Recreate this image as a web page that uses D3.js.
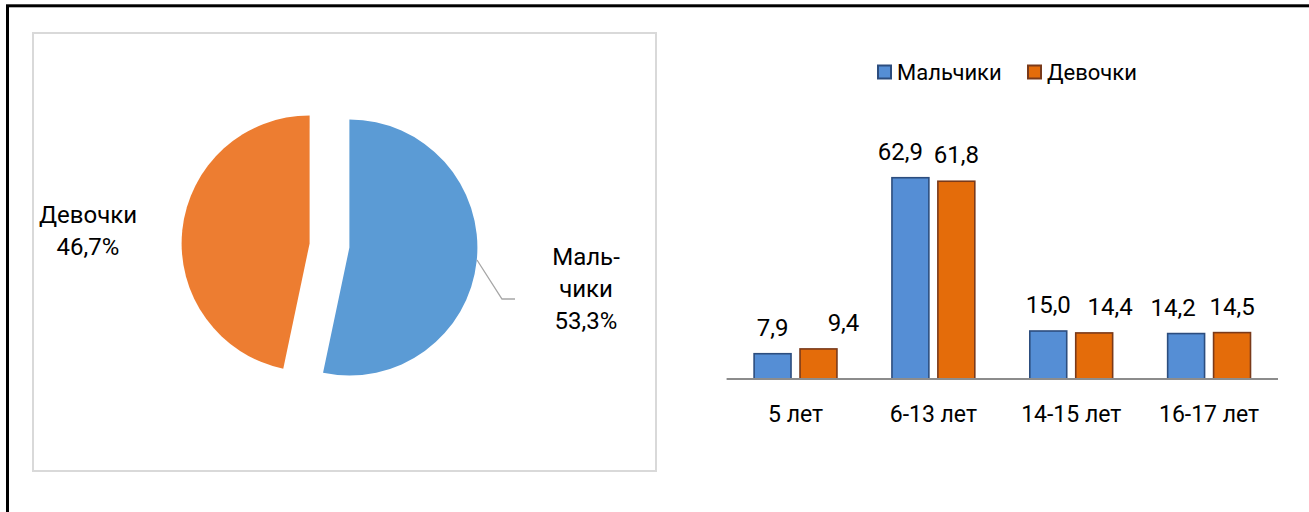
<!DOCTYPE html>
<html>
<head>
<meta charset="utf-8">
<script src="https://cdn.jsdelivr.net/npm/d3@7"></script>
<style>
  html, body { margin: 0; padding: 0; background: #fff; }
  svg { display: block; font-family: Roboto, "Noto Sans", sans-serif; }
</style>
</head>
<body>
<svg id="chart" width="1309" height="512"></svg>
<script>
// ---- data ----
const pieNames = ["Мальчики", "Девочки"];
const pieValues = [53.3, 46.7];
const pieLabelLines = [["Маль-", "чики", "53,3%"], ["Девочки", "46,7%"]];

const categories = ["5 лет", "6-13 лет", "14-15 лет", "16-17 лет"];
const seriesNames = ["Мальчики", "Девочки"];
const boys = [7.9, 62.9, 15.0, 14.2];
const girls = [9.4, 61.8, 14.4, 14.5];
// manual horizontal nudges of value labels (as dragged in the original)
const labelNudgeBoys = [0, -10, 0, -13];
const labelNudgeGirls = [25, 0, 16, 0];

// ---- styles ----
const pieColors = ["#5b9bd5", "#ed7d31"];
const barFill = ["#558ed5", "#e46c0a"];
const barStroke = ["#2c4d7e", "#7a3a1a"];
const fmt = v => d3.format(".1f")(v).replace(".", ",");

const svg = d3.select("#chart");

// outer black frame (right / bottom edges outside the view)
svg.append("rect").attr("x", 7.5).attr("y", 5.8).attr("width", 1400).attr("height", 600)
  .attr("fill", "none").attr("stroke", "#000").attr("stroke-width", 3);

// pie panel frame
svg.append("rect").attr("x", 33).attr("y", 33).attr("width", 623).attr("height", 438)
  .attr("fill", "#fff").attr("stroke", "#d9d9d9").attr("stroke-width", 2);

// ---- pie ----
const cx = 329.5, cy = 245.5, R = 128, explode = 20;
const pie = d3.pie().sort(null).value(d => d)(pieValues);
const arc = d3.arc().innerRadius(0).outerRadius(R);
const pg = svg.append("g").attr("transform", `translate(${cx},${cy})`);
pg.selectAll("path").data(pie).join("path")
  .attr("d", arc)
  .attr("fill", (d, i) => pieColors[i])
  .attr("transform", d => {
    const a = (d.startAngle + d.endAngle) / 2;
    return `translate(${explode * Math.sin(a)},${-explode * Math.cos(a)})`;
  });

// leader line for Мальчики
svg.append("polyline")
  .attr("points", "477,260 502,299 515,299")
  .attr("fill", "none").attr("stroke", "#a6a6a6").attr("stroke-width", 1.3);

const pieLabelPos = [{x: 586, y: 265, dy: 32}, {x: 88, y: 223, dy: 32}];
pieLabelLines.forEach((lines, i) => {
  const t = svg.append("text").attr("text-anchor", "middle")
    .attr("font-size", 24).attr("fill", "#000");
  lines.forEach((ln, j) => {
    t.append("tspan").attr("x", pieLabelPos[i].x)
      .attr("y", pieLabelPos[i].y + j * pieLabelPos[i].dy).text(ln);
  });
});

// ---- bar chart ----
const x0 = d3.scaleBand().domain(categories).range([726.6, 1278]).paddingInner(0).paddingOuter(0);
const x1 = d3.scaleBand().domain(seriesNames).range([27.5, x0.bandwidth() - 27.5]).paddingInner(0.196);
const y = d3.scaleLinear().domain([0, 70]).range([379, 155]);

const seriesVals = [boys, girls];
const nudges = [labelNudgeBoys, labelNudgeGirls];

seriesNames.forEach((s, si) => {
  const g = svg.append("g");
  g.selectAll("rect").data(seriesVals[si]).join("rect")
    .attr("x", (d, i) => x0(categories[i]) + x1(s))
    .attr("y", d => y(d))
    .attr("width", x1.bandwidth())
    .attr("height", d => y(0) - y(d))
    .attr("fill", barFill[si]).attr("stroke", barStroke[si]).attr("stroke-width", 1.6);
  g.selectAll("text").data(seriesVals[si]).join("text")
    .attr("x", (d, i) => x0(categories[i]) + x1(s) + x1.bandwidth() / 2 + nudges[si][i])
    .attr("y", d => y(d) - 18)
    .attr("text-anchor", "middle").attr("font-size", 24).attr("fill", "#000")
    .text(d => fmt(d));
});

// x axis
const ax = svg.append("g").attr("transform", `translate(0,${y(0)})`)
  .call(d3.axisBottom(x0).tickSize(0).tickPadding(0));
ax.select(".domain").attr("stroke", "#8c8c8c").attr("stroke-width", 2)
  .attr("d", `M${x0.range()[0]},0H${x0.range()[1]}`);
ax.selectAll(".tick text").attr("font-size", 23).attr("fill", "#000")
  .attr("font-family", "Roboto, Noto Sans, sans-serif")
  .attr("dy", 0).attr("y", 43);

// legend
const legendX = [877, 1027];
seriesNames.forEach((s, si) => {
  svg.append("rect").attr("x", legendX[si] + 1).attr("y", 65.5).attr("width", 13).attr("height", 13)
    .attr("fill", barFill[si]).attr("stroke", barStroke[si]).attr("stroke-width", 2);
  svg.append("text").attr("x", legendX[si] + 20).attr("y", 80)
    .attr("font-size", 22).attr("fill", "#000").text(s);
});
</script>
</body>
</html>
